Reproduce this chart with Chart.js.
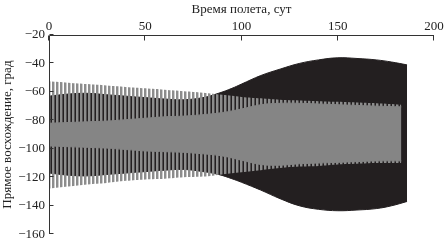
<!DOCTYPE html>
<html>
<head>
<meta charset="utf-8">
<script src="https://cdn.jsdelivr.net/npm/chart.js@4.4.1/dist/chart.umd.min.js"></script>
<style>
    html, body { margin: 0; padding: 0; background: #fff; }
    canvas { display: block; }
</style>
</head>
<body>
<canvas id="raChart" width="445" height="246"></canvas>
<script>
// Envelope of the black (dark) oscillating series
const blackDays = [0, 10, 20, 30, 40, 50, 60, 70, 80, 88, 95, 100, 110, 120, 130, 140, 150, 160, 170, 178, 186];
const blackTop = [-63, -61.5, -61, -62, -63, -64, -65, -65.5, -64, -61, -57.5, -54.5, -48.5, -44, -40, -37.5, -36, -36.5, -37.5, -39, -41];
const blackBottom = [-117, -118.5, -119, -118, -117, -116, -115, -114.5, -116, -118, -121, -123.5, -129, -135, -140, -142.5, -143.5, -143, -142, -140, -137];

// Envelope of the gray oscillating series and its dense (solid) core
const grayDays = [0, 10, 20, 30, 40, 50, 60, 70, 80, 90, 100, 110, 120, 130, 140, 150, 160, 170, 183];
const grayTop = [-52.5, -53.5, -54.5, -55.5, -56.5, -57.5, -58.5, -59.5, -60.5, -62, -63.5, -64.5, -65.5, -66, -66.5, -67, -67.5, -68, -69];
const grayBottom = [-128, -126.5, -125, -124, -122.5, -121.5, -121, -120, -119.5, -118, -116.5, -115, -113.5, -112.5, -112, -111, -110.5, -110, -110];
const coreTop = [-82, -81.5, -81, -80.5, -79.5, -78.5, -77.5, -77, -76, -74.5, -72, -69, -68, -68, -68.5, -69, -69.5, -70, -70.5];
const coreBottom = [-98, -98.5, -99, -99.5, -100.5, -101.5, -102, -102.5, -103.5, -105, -108, -111, -111.5, -110.5, -110, -109.5, -109, -108.5, -108.5];

const xTicks = [0, 50, 100, 150, 200];
const yTicks = [-160, -140, -120, -100, -80, -60, -40, -20];

const axisColor = '#333';
const font = { family: "'Liberation Serif', 'DejaVu Serif', serif", size: 13 };

// vertical stripes to imitate the dense oscillation lines
function stripePattern(color, halfColor) {
    const c = document.createElement('canvas');
    c.width = 4;
    c.height = 1;
    const g = c.getContext('2d');
    g.fillStyle = color;
    g.fillRect(0, 0, 2, 1);
    g.fillStyle = halfColor;
    g.fillRect(2, 0, 1, 1);
    return g.createPattern(c, 'repeat');
}

function points(days, values) {
    return days.map((d, i) => ({ x: d, y: values[i] }));
}

const innerTicks = {
    id: 'innerTicks',
    afterDraw(chart) {
        const { ctx, chartArea, scales: { x, y } } = chart;
        ctx.save();
        ctx.strokeStyle = axisColor;
        ctx.lineWidth = 1;
        ctx.beginPath();
        const left = Math.round(chartArea.left) + 0.5;
        const top = Math.round(chartArea.top) + 0.5;
        ctx.moveTo(left, Math.round(chartArea.bottom));
        ctx.lineTo(left, top);
        ctx.lineTo(Math.round(chartArea.right), top);
        xTicks.forEach(v => {
            const px = Math.round(x.getPixelForValue(v)) - 0.5;
            ctx.moveTo(px, top);
            ctx.lineTo(px, top + 5);
        });
        yTicks.forEach(v => {
            const py = Math.round(y.getPixelForValue(v)) - 0.5;
            ctx.moveTo(left, py);
            ctx.lineTo(left + 4, py);
        });
        ctx.stroke();
        ctx.restore();
    }
};

const ctx = document.getElementById('raChart');
new Chart(ctx.getContext('2d'), {
    type: 'line',
    data: {
        datasets: [{
            data: points(grayDays, coreTop),
            fill: '+1',
            backgroundColor: '#858585',
            borderColor: '#858585',
            borderWidth: 1,
            order: 1
        }, {
            data: points(grayDays, coreBottom),
            borderColor: '#858585',
            borderWidth: 1,
            order: 1
        }, {
            data: points(grayDays, grayTop),
            fill: '+1',
            backgroundColor: stripePattern('#8c8c8c', 'rgba(140,140,140,0.45)'),
            borderColor: 'rgba(0,0,0,0)',
            borderWidth: 1,
            order: 2
        }, {
            data: points(grayDays, grayBottom),
            borderColor: 'rgba(0,0,0,0)',
            borderWidth: 1,
            order: 2
        }, {
            data: points(blackDays, blackTop),
            fill: '+1',
            backgroundColor: '#231f20',
            borderColor: '#231f20',
            borderWidth: 1,
            order: 3
        }, {
            data: points(blackDays, blackBottom),
            borderColor: '#231f20',
            borderWidth: 1,
            order: 3
        }]
    },
    options: {
        responsive: false,
        animation: false,
        layout: { padding: { right: 11, bottom: 7 } },
        elements: {
            point: { radius: 0 },
            line: { tension: 0.4 }
        },
        plugins: {
            legend: { display: false },
            tooltip: { enabled: false }
        },
        scales: {
            x: {
                type: 'linear',
                position: 'top',
                min: 0,
                max: 200,
                afterFit: s => { s.height = 35; },
                afterBuildTicks: s => { s.ticks = xTicks.map(v => ({ value: v })); },
                ticks: { font, color: '#222', padding: 1, maxRotation: 0 },
                grid: { display: false, drawTicks: false },
                border: { display: false },
                title: { display: true, text: 'Время полета, сут', font, color: '#222', padding: { top: 2, bottom: 0 } }
            },
            y: {
                min: -160,
                max: -20,
                afterFit: s => { s.width = 49; },
                afterBuildTicks: s => { s.ticks = yTicks.map(v => ({ value: v })); },
                ticks: {
                    font,
                    color: '#222',
                    padding: 4,
                    callback: v => String(v).replace('-', '\u2212')
                },
                grid: { display: false, drawTicks: false },
                border: { display: false },
                title: { display: true, text: 'Прямое восхождение, град', font, color: '#222', padding: { top: 0, bottom: 2 } }
            }
        }
    },
    plugins: [innerTicks]
});
</script>
</body>
</html>
